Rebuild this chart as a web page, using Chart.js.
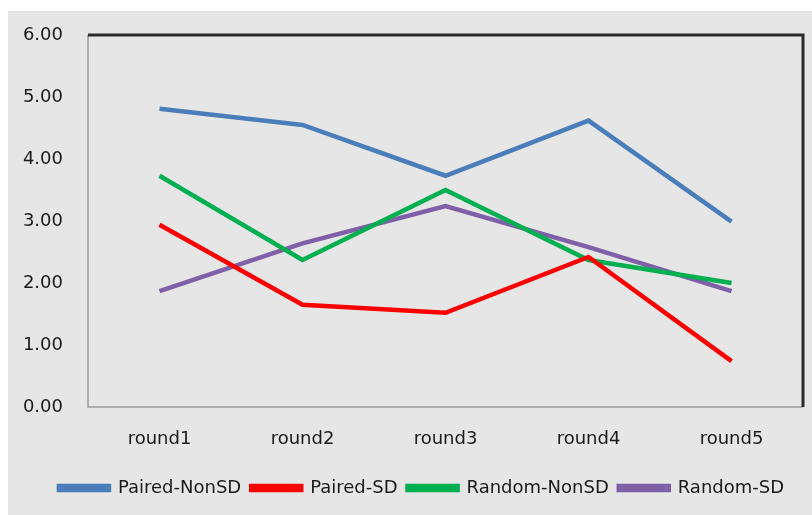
<!DOCTYPE html>
<html><head><meta charset="utf-8">
<script src="https://cdn.jsdelivr.net/npm/chart.js@4"></script>
<style>
html,body{margin:0;padding:0;background:#fff;}
#wrap{position:absolute;left:8px;top:11px;width:804px;height:504px;background:#e6e6e6;}
canvas{display:block;}
</style></head><body>
<div id="wrap"><canvas id="c" width="804" height="504"></canvas></div>
<script>
const categories = ['round1','round2','round3','round4','round5'];
const pairedNonSD = [4.81, 4.55, 3.73, 4.62, 2.99];
const pairedSD = [2.94, 1.65, 1.52, 2.42, 0.74];
const randomNonSD = [3.73, 2.37, 3.50, 2.37, 2.00];
const randomSD = [1.87, 2.64, 3.24, 2.58, 1.87];
const yTicks = [0,1,2,3,4,5,6];

const FONT = 'DejaVu Sans';
const borderPlugin = {
  id:'border',
  afterLayout(chart){
    const L = chart.legend;
    if (L) { L.left += 16; L.right += 16; }
  },
  afterDatasetsDraw(chart){
    const {ctx, chartArea:a} = chart;
    ctx.save();
    ctx.strokeStyle='#9a9a9a'; ctx.lineWidth=1.5;
    ctx.beginPath(); ctx.moveTo(a.left, a.top); ctx.lineTo(a.left, a.bottom); ctx.lineTo(a.right, a.bottom); ctx.stroke();
    ctx.strokeStyle='#2a2a2a'; ctx.lineWidth=3;
    ctx.beginPath(); ctx.moveTo(a.left, a.top); ctx.lineTo(a.right, a.top); ctx.lineTo(a.right, a.bottom); ctx.stroke();
    ctx.restore();
  }
};
function ds(label, data, color){
  return {label, data, borderColor:color, backgroundColor:color, borderWidth:4.5, pointRadius:0, tension:0, fill:false};
}
new Chart(document.getElementById('c'), {
  type:'line',
  data:{labels:categories, datasets:[
    ds('Paired-NonSD', pairedNonSD, '#4a7ebb'),
    ds('Paired-SD', pairedSD, '#ff0000'),
    ds('Random-NonSD', randomNonSD, '#00b050'),
    ds('Random-SD', randomSD, '#7f60a8')
  ]},
  options:{
    responsive:false, animation:false,
    layout:{padding:{top:24, right:9, left:0, bottom:8}},
    plugins:{
      legend:{position:'bottom', labels:{boxWidth:50, boxHeight:4, padding:10, color:'#1a1a1a', font:{family:FONT, size:18}}},
      tooltip:{enabled:false}
    },
    scales:{
      x:{offset:true, grid:{display:false, drawTicks:false}, border:{display:false},
         ticks:{color:'#1a1a1a', padding:22, font:{family:FONT, size:18}},
         afterFit(s){ s.height = 62; s.paddingLeft = 0; s.paddingRight = 0; }},
      y:{min:0, max:6, grid:{display:false, drawTicks:false}, border:{display:false},
         afterBuildTicks(s){ s.ticks = yTicks.map(v=>({value:v})); },
         ticks:{color:'#1a1a1a', padding:25, font:{family:FONT, size:18}, callback:v=>Number(v).toFixed(2)},
         afterFit(s){ s.width = 80; s.paddingTop = 0; s.paddingBottom = 0; }}
    }
  },
  plugins:[borderPlugin]
});
</script></body></html>
